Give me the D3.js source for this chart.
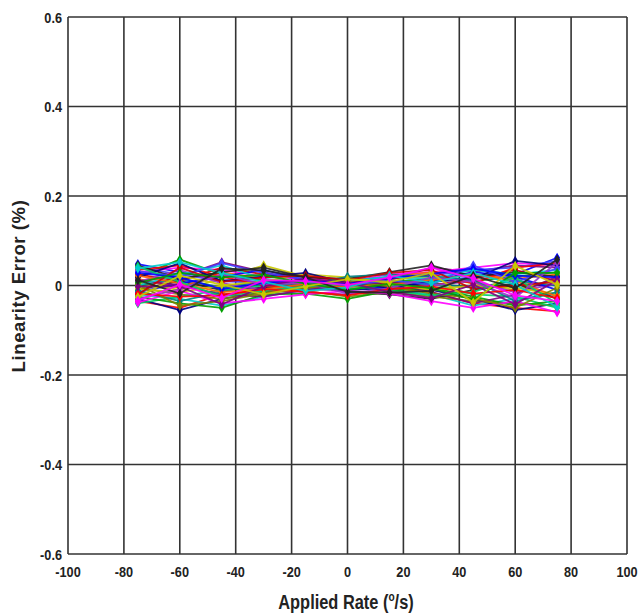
<!DOCTYPE html>
<html><head><meta charset="utf-8">
<script src="https://cdn.jsdelivr.net/npm/d3@7"></script>
<style>body{margin:0;background:#fff}</style>
</head><body>
<svg id="c" width="640" height="613"></svg>
<script>
const rates = [-75,-60,-45,-30,-15,0,15,30,45,60,75];
const xTicks = [-100,-80,-60,-40,-20,0,20,40,60,80,100];
const yTicks = [-0.6,-0.4,-0.2,0,0.2,0.4,0.6];
const yTickLabels = ["-0.6","-0.4","-0.2","0","0.2","0.4","0.6"];
const s01 = [0.048,0.030,0.012,0.008,0.004,0.002,0.006,0.010,0.018,0.025,0.062];
const s02 = [-0.035,-0.050,-0.020,-0.010,-0.004,0.000,-0.006,-0.015,-0.040,-0.050,-0.058];
const s03 = [0.020,0.058,0.025,0.012,0.006,0.004,0.008,0.015,0.010,0.020,0.030];
const s04 = [0.010,0.020,0.052,0.030,0.010,0.005,0.012,0.040,0.030,0.045,0.040];
const s05 = [-0.020,-0.030,-0.045,-0.025,-0.010,-0.005,-0.010,-0.020,-0.045,-0.030,-0.020];
const s06 = [0.005,-0.010,0.015,0.045,0.020,0.010,0.015,0.020,0.005,-0.010,0.015];
const s07 = [-0.010,0.010,-0.010,-0.005,0.002,-0.015,-0.020,-0.030,-0.010,0.005,-0.030];
const s08 = [0.030,0.040,0.035,0.020,0.015,0.008,0.025,0.030,0.040,0.050,0.045];
const s09 = [-0.030,-0.055,-0.030,-0.015,-0.008,-0.010,-0.005,-0.010,-0.030,-0.055,-0.040];
const s10 = [0.000,0.015,-0.005,0.010,0.005,0.015,0.010,0.005,-0.005,0.010,0.000];
const s11 = [0.015,-0.005,0.030,0.015,0.000,-0.005,0.020,0.030,0.025,0.015,0.025];
const s12 = [-0.005,-0.020,-0.030,-0.015,-0.012,-0.025,-0.015,-0.025,-0.035,-0.040,-0.045];
const s13 = [0.040,0.025,0.010,0.005,0.010,0.012,0.018,0.022,0.035,0.040,0.055];
const s14 = [0.025,0.010,0.040,0.025,0.020,0.010,0.005,0.000,0.015,0.035,0.010];
const s15 = [-0.040,-0.025,-0.010,0.000,-0.005,-0.008,0.000,0.005,-0.020,-0.025,-0.050];
const s16 = [0.008,0.035,0.005,-0.010,-0.015,-0.020,-0.010,0.000,0.010,-0.015,0.005];
const s17 = [-0.015,0.005,0.020,0.035,0.012,0.002,-0.008,0.010,0.030,0.020,-0.010];
const s18 = [0.035,0.045,0.020,0.000,-0.005,0.005,0.015,0.025,0.005,0.040,0.050];
const s19 = [-0.025,-0.040,-0.050,-0.020,-0.018,-0.030,-0.012,-0.005,-0.025,-0.045,-0.035];
const s20 = [0.012,0.000,-0.020,-0.025,-0.010,0.000,0.010,-0.015,-0.040,-0.020,0.020];
const s21 = [0.000,0.025,0.045,0.015,0.008,0.010,0.020,0.015,0.035,0.025,0.035];
const s22 = [-0.008,-0.015,0.000,0.010,0.025,0.018,0.005,-0.010,0.000,-0.005,-0.020];
const s23 = [0.045,0.015,0.030,0.040,0.018,0.015,0.030,0.045,0.020,0.030,0.020];
const s24 = [-0.038,-0.012,-0.040,-0.030,-0.020,-0.012,-0.018,-0.035,-0.050,-0.035,-0.060];
const s25 = [0.018,0.050,0.010,0.020,0.028,0.006,-0.004,0.008,0.015,0.055,0.045];
const s26 = [-0.012,-0.035,-0.015,0.005,0.000,0.020,0.025,0.020,0.012,-0.035,-0.015];
const s27 = [0.022,0.005,-0.015,-0.008,0.003,-0.003,0.002,0.012,0.025,0.010,-0.025];
const s28 = [0.002,-0.045,-0.035,-0.018,-0.006,0.008,-0.002,-0.018,-0.028,-0.050,-0.005];
const s29 = [0.032,0.020,0.050,0.028,0.014,0.000,0.012,0.002,0.045,0.008,0.038];
const s30 = [-0.020,0.040,0.008,0.018,0.022,0.012,0.028,0.035,-0.008,0.000,0.008];
const s31 = [0.042,0.008,-0.025,-0.012,-0.002,0.003,-0.012,-0.022,-0.015,0.018,-0.040];
const s32 = [-0.030,-0.008,0.025,0.002,0.006,-0.018,-0.006,0.018,0.008,-0.028,0.052];
const s33 = [0.028,0.018,-0.008,0.006,0.012,0.004,0.016,0.026,0.038,0.022,0.018];
const s34 = [-0.018,-0.025,-0.022,-0.008,-0.014,-0.022,-0.008,-0.002,-0.018,-0.010,-0.028];
const s35 = [0.006,0.028,0.018,0.024,0.004,-0.010,0.004,-0.006,-0.032,0.028,0.028];
const s36 = [-0.002,-0.002,-0.042,-0.002,0.016,0.006,-0.014,-0.028,0.002,-0.042,0.012];
const s37 = [0.038,0.052,0.028,0.008,-0.012,-0.004,0.022,0.006,0.028,0.002,-0.048];
const s38 = [-0.026,0.022,0.002,-0.020,-0.002,0.014,0.008,0.028,-0.038,0.044,0.002];
const s39 = [0.012,-0.018,0.038,0.034,0.018,-0.014,-0.016,-0.012,0.022,-0.006,0.058];
const s40 = [-0.034,0.002,-0.028,0.012,0.010,0.001,0.018,0.040,0.016,-0.022,-0.035];
const series = [s01,s02,s03,s04,s05,s06,s07,s08,s09,s10,s11,s12,s13,s14,s15,s16,s17,s18,s19,s20,s21,s22,s23,s24,s25,s26,s27,s28,s29,s30,s31,s32,s33,s34,s35,s36,s37,s38,s39,s40];
const palette = ["#0000ff","#ff0000","#00a000","#800080","#00cccc","#c8c800","#222222","#ff00ff","#000080","#008080","#ff6000","#808000","#4040ff","#cc0000","#00cc66","#9933cc"];

const svg = d3.select("#c");
const L=68, R=627, T=17, B=554;
const x = d3.scaleLinear().domain([-100,100]).range([L,R]);
const y = d3.scaleLinear().domain([-0.6,0.6]).range([B,T]);
const font = "'Liberation Sans',Arial,sans-serif";

const g = svg.append("g");
g.selectAll("line.vx").data(xTicks).enter().append("line")
  .attr("x1",d=>x(d)).attr("x2",d=>x(d)).attr("y1",T).attr("y2",B)
  .attr("stroke","#333").attr("stroke-width",1.6);
g.selectAll("line.hy").data(yTicks).enter().append("line")
  .attr("x1",L).attr("x2",R).attr("y1",d=>y(d)).attr("y2",d=>y(d))
  .attr("stroke","#333").attr("stroke-width",1.6);

const line = d3.line().x((d,i)=>x(rates[i])).y(d=>y(d));
const sg = svg.append("g");
series.forEach((s,k)=>{
  const c = palette[k%palette.length];
  sg.append("path").attr("d",line(s)).attr("fill","none").attr("stroke",c).attr("stroke-width",1.8).attr("opacity",0.9);
  sg.selectAll(null).data(s).enter().append("path")
    .attr("d",d3.symbol(d3.symbolDiamond,30)())
    .attr("transform",(d,i)=>`translate(${x(rates[i])},${y(d)})`)
    .attr("fill",c);
});

const sx = 0.82;
svg.selectAll("text.xt").data(xTicks).enter().append("text")
  .attr("transform",d=>`translate(${x(d)},577) scale(${sx},1)`).attr("text-anchor","middle")
  .attr("font-family",font).attr("font-weight","bold").attr("font-size",15.5).attr("fill","#222")
  .text(d=>d);
svg.selectAll("text.yt").data(yTicks).enter().append("text")
  .attr("transform",d=>`translate(62,${y(d)+5.5}) scale(${sx},1)`).attr("text-anchor","end")
  .attr("font-family",font).attr("font-weight","bold").attr("font-size",15.5).attr("fill","#222")
  .text((d,i)=>yTickLabels[i]);

const xt = svg.append("text").attr("transform","translate(346,609) scale(0.78,1)").attr("text-anchor","middle")
  .attr("font-family",font).attr("font-weight","bold").attr("font-size",21).attr("fill","#222");
xt.append("tspan").text("Applied Rate (");
xt.append("tspan").attr("dy",-8).attr("font-size",13).text("o");
xt.append("tspan").attr("dy",8).text("/s)");

svg.append("text").attr("transform","translate(25,286) rotate(-90)").attr("text-anchor","middle")
  .attr("font-family",font).attr("font-weight","bold").attr("font-size",18.5).attr("fill","#222")
  .attr("letter-spacing",0.6)
  .text("Linearity Error (%)");
</script>
</body></html>
